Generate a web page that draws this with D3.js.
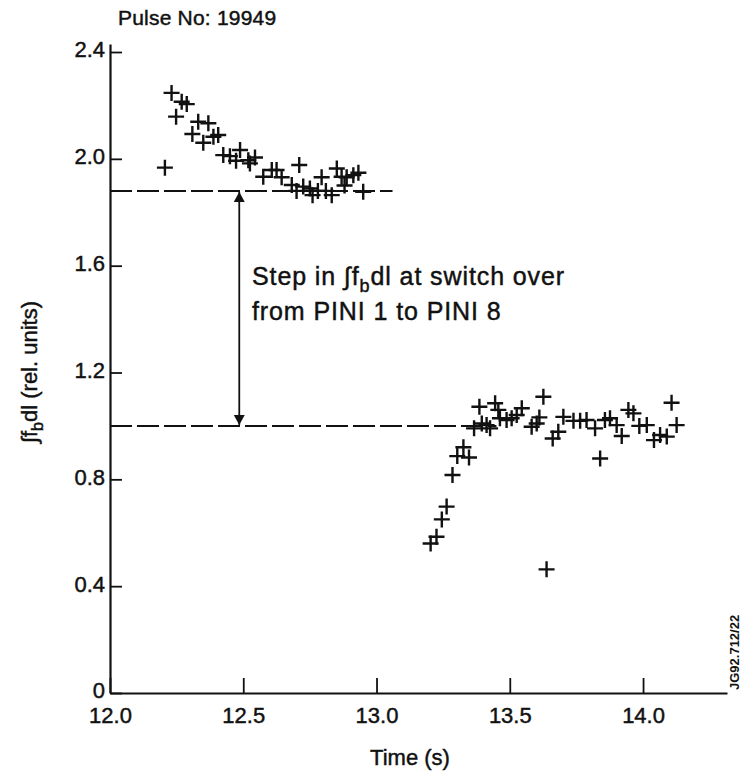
<!DOCTYPE html>
<html>
<head>
<meta charset="utf-8">
<script src="https://cdn.jsdelivr.net/npm/d3@7"></script>
<style>
  html, body { margin: 0; padding: 0; background: #fff; }
  svg { display: block; }
  text { font-family: "Liberation Sans", Arial, Helvetica, sans-serif; fill: #111; stroke: #111; stroke-width: 0.45px; }
</style>
</head>
<body>
<svg id="chart" width="741" height="773"></svg>
<script>
// PINI 1 phase (before switch-over)
const pini1Time = [12.206, 12.231, 12.248, 12.269, 12.288, 12.309, 12.331, 12.350, 12.369, 12.388,
                   12.406, 12.425, 12.450, 12.473, 12.488, 12.519, 12.525, 12.544, 12.575, 12.607,
                   12.625, 12.644, 12.682, 12.700, 12.710, 12.725, 12.750, 12.760, 12.780, 12.794,
                   12.810, 12.832, 12.851, 12.869, 12.880, 12.888, 12.913, 12.932, 12.950];
const pini1Val  = [1.967, 2.247, 2.158, 2.214, 2.205, 2.093, 2.139, 2.060, 2.133, 2.083,
                   2.089, 2.014, 2.010, 1.993, 2.033, 1.995, 1.983, 2.005, 1.933, 1.958,
                   1.958, 1.931, 1.902, 1.880, 1.977, 1.896, 1.889, 1.864, 1.880, 1.931,
                   1.880, 1.864, 1.964, 1.933, 1.900, 1.931, 1.939, 1.948, 1.877];

// PINI 8 phase (after switch-over)
const pini8Time = [13.203, 13.225, 13.245, 13.263, 13.285, 13.303, 13.326, 13.347, 13.366, 13.386,
                   13.395, 13.413, 13.426, 13.445, 13.457, 13.463, 13.488, 13.507, 13.526, 13.545,
                   13.582, 13.601, 13.611, 13.626, 13.638, 13.661, 13.682, 13.701, 13.739, 13.764,
                   13.788, 13.820, 13.839, 13.857, 13.876, 13.901, 13.920, 13.945, 13.964, 13.986,
                   14.014, 14.041, 14.064, 14.089, 14.107, 14.126];
const pini8Val  = [0.560, 0.585, 0.650, 0.698, 0.816, 0.887, 0.920, 0.882, 0.991, 1.072,
                   1.009, 1.003, 0.991, 1.085, 1.060, 1.029, 1.022, 1.029, 1.041, 1.066,
                   0.997, 1.009, 1.032, 1.109, 0.463, 0.953, 0.978, 1.034, 1.019, 1.019,
                   1.022, 0.991, 0.878, 1.022, 1.029, 1.003, 0.962, 1.060, 1.047, 1.000,
                   1.003, 0.947, 0.966, 0.960, 1.087, 1.003];

// Reference levels and the time range each dashed line covers
const levelVal   = [1.88, 1.00];
const levelEnd   = [13.06, 13.45];
const arrowTime  = 12.485;

const xTicks = [12.0, 12.5, 13.0, 13.5, 14.0];
const yTicks = [0, 0.4, 0.8, 1.2, 1.6, 2.0, 2.4];

const svg = d3.select("#chart");

const x = d3.scaleLinear().domain([12.0, 14.315]).range([110, 727]);
const y = d3.scaleLinear().domain([0, 2.43]).range([693, 44]);

// Axes with inward ticks
const xAxis = d3.axisBottom(x)
  .tickValues(xTicks)
  .tickFormat(d3.format(".1f"))
  .tickSizeInner(-15).tickSizeOuter(0).tickPadding(14);
const yAxis = d3.axisLeft(y)
  .tickValues(yTicks)
  .tickFormat(d => d === 0 ? "0" : d3.format(".1f")(d))
  .tickSizeInner(-12).tickSizeOuter(0).tickPadding(5);

const gx = svg.append("g").attr("transform", `translate(0,${y(0)})`).call(xAxis);
const gy = svg.append("g").attr("transform", `translate(${x(12.0)},0)`).call(yAxis);

[gx, gy].forEach(g => {
  g.selectAll("path.domain").attr("stroke", "#111").attr("stroke-width", 2.2);
  g.selectAll(".tick line").attr("stroke", "#111").attr("stroke-width", 1.8);
  g.selectAll(".tick text").style("font-size", "22px").attr("fill", "#111");
});
gy.selectAll(".tick text").attr("dy", "0.22em");

// Dashed reference levels
svg.append("g").selectAll("line.level")
  .data(levelVal)
  .join("line")
  .attr("x1", x(12.0))
  .attr("x2", (d, i) => x(levelEnd[i]))
  .attr("y1", d => y(d))
  .attr("y2", d => y(d))
  .attr("stroke", "#111")
  .attr("stroke-width", 2)
  .attr("stroke-dasharray", "22,5");

// Double-headed arrow marking the step
const defs = svg.append("defs");
defs.append("marker")
  .attr("id", "head")
  .attr("viewBox", "0 0 10 14")
  .attr("refX", 10).attr("refY", 7)
  .attr("markerWidth", 10).attr("markerHeight", 14)
  .attr("markerUnits", "userSpaceOnUse")
  .attr("orient", "auto-start-reverse")
  .append("path")
  .attr("d", "M0,1.5L10,7L0,12.5Z")
  .attr("fill", "#111");

svg.append("line")
  .attr("x1", x(arrowTime)).attr("x2", x(arrowTime))
  .attr("y1", y(levelVal[0]) + 1).attr("y2", y(levelVal[1]) - 1)
  .attr("stroke", "#111").attr("stroke-width", 1.8)
  .attr("marker-start", "url(#head)")
  .attr("marker-end", "url(#head)");

// Data points drawn as plus markers
const plus = "M-8,0H8M0,-8V8";
const pts = pini1Time.map((t, i) => ({t, v: pini1Val[i]}))
  .concat(pini8Time.map((t, i) => ({t, v: pini8Val[i]})));

svg.append("g").selectAll("path.pt")
  .data(pts)
  .join("path")
  .attr("transform", d => `translate(${x(d.t)},${y(d.v)})`)
  .attr("d", plus)
  .attr("stroke", "#111")
  .attr("stroke-width", 2.4)
  .attr("fill", "none");

// Annotation
const note = svg.append("text")
  .attr("x", 252).attr("y", 285)
  .style("font-size", "25px")
  .style("letter-spacing", "0.9px");
note.append("tspan").text("Step in \u222Bf");
note.append("tspan").attr("dy", 7).style("font-size", "18px").text("b");
note.append("tspan").attr("dy", -7).text("dl at switch over");

svg.append("text")
  .attr("x", 252).attr("y", 320)
  .style("font-size", "25px")
  .style("letter-spacing", "0.9px")
  .text("from PINI 1 to PINI 8");

// Title
svg.append("text")
  .attr("x", 118).attr("y", 25)
  .style("font-size", "21px")
  .style("letter-spacing", "0.2px")
  .text("Pulse No: 19949");

// Axis titles
svg.append("text")
  .attr("x", 410).attr("y", 765)
  .attr("text-anchor", "middle")
  .style("font-size", "22px")
  .text("Time (s)");

const yl = svg.append("text")
  .attr("transform", "translate(37,372) rotate(-90)")
  .attr("text-anchor", "middle")
  .style("font-size", "22px");
yl.append("tspan").text("\u222Bf");
yl.append("tspan").attr("dy", 6).style("font-size", "16px").text("b");
yl.append("tspan").attr("dy", -6).text("dl (rel. units)");

// Figure reference
svg.append("text")
  .attr("transform", "translate(739,690) rotate(-90)")
  .attr("text-anchor", "start")
  .style("font-size", "13px")
  .style("font-weight", "bold")
  .style("stroke-width", "0")
  .text("JG92.712/22");
</script>
</body>
</html>
